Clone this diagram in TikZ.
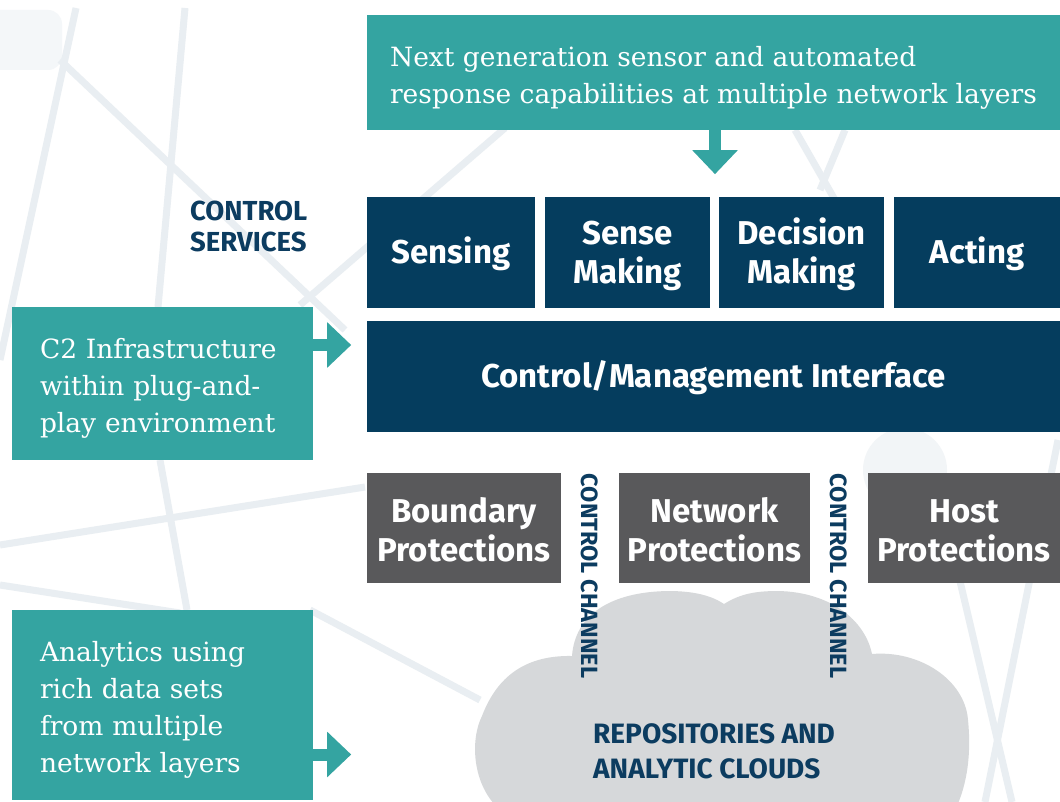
\documentclass[tikz,border=0pt]{standalone}
\usepackage{fontspec}
\setmainfont{DejaVu Serif}
\setsansfont{Fira Sans}
\usetikzlibrary{arrows.meta}
\definecolor{cteal}{HTML}{34A4A1}
\definecolor{cnavy}{HTML}{053D5E}
\definecolor{cgray}{HTML}{59595B}
\definecolor{ccloud}{HTML}{D6D8DA}
\definecolor{cbg}{HTML}{E9EEF2}
\definecolor{clabel}{HTML}{0C3C60}
\newcommand{\topstrut}{\rule{0pt}{30pt}}
\newcommand{\sstrut}{\rule{0pt}{29.5pt}}
\tikzset{
  tealbox/.style={fill=cteal, text=white, font=\fontsize{26.5}{37}\selectfont, align=left, inner sep=0pt},
  navybox/.style={fill=cnavy, text=white, font=\sffamily\bfseries\fontsize{33}{39}\selectfont, align=center, inner sep=0pt},
  graybox/.style={fill=cgray, text=white, font=\sffamily\bfseries\fontsize{33}{39}\selectfont, align=center, inner sep=0pt},
  navylabel/.style={text=clabel, font=\sffamily\bfseries\fontsize{27.5}{31}\selectfont, align=left, inner sep=0pt},
  chanlabel/.style={text=clabel, font=\sffamily\bfseries\fontsize{23.5}{24}\selectfont, inner sep=0pt, rotate=-90},
  blockarrow/.style={draw=cteal, line width=12pt, line cap=butt, -{Triangle[width=44pt,length=24pt]}},
  bgline/.style={draw=cbg, line width=7pt},
}
\begin{document}
\begin{tikzpicture}[x=1pt,y=-1pt]
\useasboundingbox (0,0) rectangle (1060,802);
\fill[white] (0,0) rectangle (1060,802);
% faint background network
\fill[cbg!50, rounded corners=14pt] (-20,10) rectangle (62,70);
\fill[cbg!60] (905,470) circle (42);
\draw[bgline] (76,8) -- (0,360);
\draw[bgline] (185,8) -- (158,307);
\draw[bgline] (160,460) -- (187,610);
\draw[bgline] (60,60) -- (345,330);
\draw[bgline] (300,305) -- (505,128);
\draw[bgline] (0,545) -- (365,487);
\draw[bgline] (0,585) -- (180,613);
\draw[bgline] (795,130) -- (835,200);
\draw[bgline] (845,130) -- (820,190);
\draw[bgline] (955,560) -- (1012,802);
\draw[bgline] (1058,440) -- (985,802);
\draw[bgline] (310,610) -- (480,700);
% cloud
\fill[ccloud] (500,810) .. controls (472,785) and (470,740) .. (482,716)
  .. controls (495,682) and (520,655) .. (572,656)
  .. controls (575,615) and (610,592) .. (668,591)
  .. controls (695,591) and (712,596) .. (724,604)
  .. controls (740,594) and (755,591) .. (778,591)
  .. controls (830,592) and (865,620) .. (872,654)
  .. controls (920,650) and (965,680) .. (968,720)
  .. controls (972,760) and (965,790) .. (955,810) -- cycle;
% top box
\node[tealbox, minimum width=693pt, minimum height=115pt] (top) at (713.5,72.5)
  {\topstrut Next generation sensor and automated\\response capabilities at multiple network layers};
% control services
\node[navylabel, anchor=west] (cs) at (190,226) {CONTROL\\SERVICES};
\node[navybox, minimum width=168pt, minimum height=111pt] (sensing) at (451,252.5) {\sstrut Sensing};
\node[navybox, minimum width=165pt, minimum height=111pt] (sm) at (627.5,252.5) {\sstrut Sense\\Making};
\node[navybox, minimum width=165pt, minimum height=111pt] (dm) at (801.5,252.5) {\sstrut Decision\\Making};
\node[navybox, minimum width=166pt, minimum height=111pt] (acting) at (977,252.5) {\sstrut Acting};
\node[navybox, minimum width=693pt, minimum height=111pt] (cmi) at (713.5,376.5) {\sstrut Control/Management Interface};
% side boxes
\node[tealbox, minimum width=301pt, minimum height=153pt, text width=245pt] (c2) at (162.5,383.5)
  {\topstrut C2 Infrastructure\\within plug-and-\\play environment};
\node[tealbox, minimum width=301pt, minimum height=190pt, text width=245pt] (an) at (162.5,705)
  {\topstrut Analytics using\\rich data sets\\from multiple\\network layers};
% protections
\node[graybox, minimum width=194pt, minimum height=110pt] (bp) at (464,528) {\sstrut Boundary\\Protections};
\node[graybox, minimum width=191pt, minimum height=110pt] (np) at (714.5,528) {\sstrut Network\\Protections};
\node[graybox, minimum width=192pt, minimum height=110pt] (hp) at (964,528) {\sstrut Host\\Protections};
\node[chanlabel] (ch1) at (589.5,576) {CONTROL CHANNEL};
\node[chanlabel] (ch2) at (839,576) {CONTROL CHANNEL};
% cloud label
\node[navylabel, anchor=west, font=\sffamily\bfseries\fontsize{28}{35}\selectfont] (clouds) at (593,751)
  {REPOSITORIES AND\\ANALYTIC CLOUDS};
% arrows
\draw[blockarrow] ([xshift=1.5pt]top.south) -- ([xshift=1.5pt,yshift=-44pt]top.south);
\draw[blockarrow] ([yshift=38.5pt]c2.east) -- ([yshift=38.5pt,xshift=38pt]c2.east);
\draw[blockarrow] ([yshift=-49.5pt]an.east) -- ([yshift=-49.5pt,xshift=38pt]an.east);
\end{tikzpicture}
\end{document}
